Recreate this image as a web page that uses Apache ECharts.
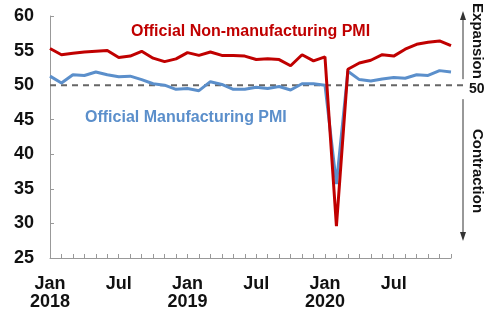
<!DOCTYPE html>
<html><head><meta charset="utf-8">
<script src="https://cdn.jsdelivr.net/npm/echarts@6/dist/echarts.min.js"></script>
<style>html,body{margin:0;padding:0;background:#fff}#c{width:488px;height:312px}</style>
</head><body><div id="c"></div>
<script>
const months = [];
const years = [2018, 2019, 2020];
const monthNames = ['Jan','Feb','Mar','Apr','May','Jun','Jul','Aug','Sep','Oct','Nov','Dec'];
years.forEach(y => monthNames.forEach(m => months.push(m + ' ' + y)));

const manufacturing = [51.3,50.3,51.5,51.4,51.9,51.5,51.2,51.3,50.8,50.2,50.0,49.4,
  49.5,49.2,50.5,50.1,49.4,49.4,49.7,49.5,49.8,49.3,50.2,50.2,
  50.0,35.7,52.0,50.8,50.6,50.9,51.1,51.0,51.5,51.4,52.1,51.9];
const nonManufacturing = [55.3,54.4,54.6,54.8,54.9,55.0,54.0,54.2,54.9,53.9,53.4,53.8,
  54.7,54.3,54.8,54.3,54.3,54.2,53.7,53.8,53.7,52.8,54.4,53.5,
  54.1,29.6,52.3,53.2,53.6,54.4,54.2,55.2,55.9,56.2,56.4,55.7];
const yTicks = [25, 60, 5];
const threshold = 50;

const RED = '#C00000', BLUE = '#5B8FCB';
const chart = echarts.init(document.getElementById('c'));
const font = 'Liberation Sans, Arial, sans-serif';
chart.setOption({
  animation: false,
  grid: {left: 50, right: 37, top: 16, bottom: 54},
  xAxis: {
    type: 'category', data: months, boundaryGap: false,
    axisLine: {lineStyle: {color: '#999', width: 1}},
    axisTick: {inside: true, length: 4, interval: 0, lineStyle: {color: '#999'}},
    axisLabel: {
      interval: 0, margin: 17, color: '#111', fontWeight: 'bold', fontSize: 18, fontFamily: font, lineHeight: 18,
      formatter: (v, i) => {
        const [m, y] = v.split(' ');
        if (m === 'Jan') return 'Jan\n' + y;
        if (m === 'Jul') return 'Jul';
        return '';
      }
    }
  },
  yAxis: {
    type: 'value', min: yTicks[0], max: yTicks[1], interval: yTicks[2],
    splitLine: {show: false},
    axisLine: {show: true, lineStyle: {color: '#999'}},
    axisTick: {show: true, inside: true, length: 4, lineStyle: {color: '#999'}},
    axisLabel: {margin: 16, color: '#111', fontWeight: 'bold', fontSize: 18, fontFamily: font}
  },
  series: [
    {name: 'Official Manufacturing PMI', type: 'line', data: manufacturing, symbol: 'none',
      lineStyle: {color: BLUE, width: 3}, z: 3},
    {name: 'Official Non-manufacturing PMI', type: 'line', data: nonManufacturing, symbol: 'none',
      lineStyle: {color: RED, width: 3}, z: 4}
  ]
});

const p50 = chart.convertToPixel({xAxisIndex: 0, yAxisIndex: 0}, [0, threshold]);
const y50 = p50[1];
const x0 = p50[0];
const ax = 463;
const topY = chart.convertToPixel({yAxisIndex: 0}, 60);
const botY = chart.convertToPixel({yAxisIndex: 0}, 25);
const arrowColor = '#333';
chart.setOption({
  graphic: [
    {type: 'line', z: 1, shape: {x1: x0, y1: y50, x2: 466, y2: y50},
      style: {stroke: '#666', lineWidth: 2, lineDash: [6, 5]}},
    {type: 'line', shape: {x1: ax, y1: topY - 2, x2: ax, y2: y50 - 6}, style: {stroke: arrowColor, lineWidth: 1}},
    {type: 'polygon', shape: {points: [[ax - 3, topY + 4], [ax + 3, topY + 4], [ax, topY - 5]]}, style: {fill: arrowColor}},
    {type: 'line', shape: {x1: ax, y1: y50 + 14, x2: ax, y2: botY - 22}, style: {stroke: arrowColor, lineWidth: 1}},
    {type: 'polygon', shape: {points: [[ax - 3, botY - 26], [ax + 3, botY - 26], [ax, botY - 17]]}, style: {fill: arrowColor}},
    {type: 'text', x: 469, y: y50 + 4, style: {text: '50', font: 'bold 14px ' + font, fill: '#111', textVerticalAlign: 'middle'}},
    {type: 'text', x: 477, y: 41, rotation: -Math.PI / 2,
      style: {text: 'Expansion', font: 'bold 15px ' + font, fill: '#111', textAlign: 'center', textVerticalAlign: 'middle'}},
    {type: 'text', x: 477, y: 171, rotation: -Math.PI / 2,
      style: {text: 'Contraction', font: 'bold 15px ' + font, fill: '#111', textAlign: 'center', textVerticalAlign: 'middle'}},
    {type: 'text', x: 131, y: 32, z: 10,
      style: {text: 'Official Non-manufacturing PMI', font: 'bold 16px ' + font, fill: RED, textVerticalAlign: 'middle'}},
    {type: 'text', x: 85, y: 118, z: 10,
      style: {text: 'Official Manufacturing PMI', font: 'bold 16px ' + font, fill: BLUE, textVerticalAlign: 'middle'}}
  ]
});
</script></body></html>
